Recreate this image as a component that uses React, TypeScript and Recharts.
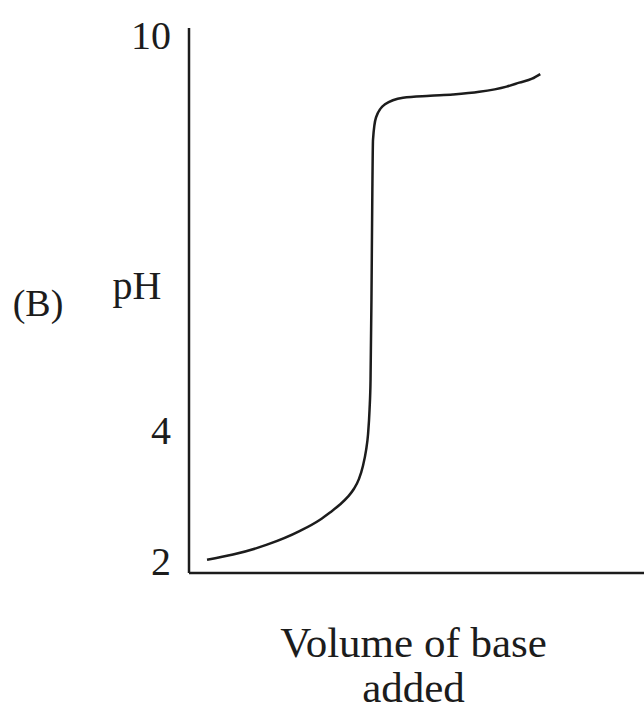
import { LineChart, Line, XAxis, YAxis, Label } from 'recharts';

// titration curve: pH against volume of base added (arbitrary volume units)
const volume = [1.98, 4.84, 8.57, 12.2, 14.4, 15.49, 16.59, 17.47, 18.13, 18.68, 19.12, 19.45, 19.67, 19.84, 19.95, 20.05, 20.14, 20.22, 20.55, 21.54, 23.52, 26.5, 29.0, 31.9, 34.9, 36.3, 37.7, 38.6];
const phValues = [2.02, 2.1, 2.25, 2.46, 2.63, 2.74, 2.86, 2.98, 3.1, 3.25, 3.45, 3.68, 3.92, 4.3, 4.76, 5.97, 7.49, 8.4, 8.74, 8.94, 9.04, 9.07, 9.09, 9.13, 9.21, 9.27, 9.33, 9.4];
const pHTicks = [2, 4, 10];

const xLabelLines = ['Volume of base', 'added'];
const yLabel = 'pH';
const partLabel = '(B)';

const data = volume.map((v, i) => ({ volume: v, ph: phValues[i] }));

const INK = '#1c1c1c';
const FONT = '"Liberation Serif", "DejaVu Serif", serif';

function XLabel(props: any) {
  const { x, y, width } = props.viewBox;
  const cx = x + width / 2 - 3;
  return (
    <text textAnchor="middle" fill={INK} fontFamily={FONT} fontSize={43}>
      <tspan x={cx} y={y + 84}>{xLabelLines[0]}</tspan>
      <tspan x={cx} y={y + 129}>{xLabelLines[1]}</tspan>
    </text>
  );
}

function YLabel(props: any) {
  const { x, y, width, height } = props.viewBox;
  const mid = y + height / 2;
  return (
    <g fill={INK} fontFamily={FONT}>
      <text x={x + width - 52} y={mid - 2} textAnchor="middle" fontSize={40}>{yLabel}</text>
      <text x={x + 38} y={mid + 15} textAnchor="middle" fontSize={38}>{partLabel}</text>
    </g>
  );
}

export default function App() {
  return (
    <div style={{ position: 'fixed', left: 0, top: 0, width: 644, height: 713, background: '#fff' }}>
      <LineChart width={644} height={713} data={data} margin={{ top: 28, right: 0, bottom: 0, left: 0 }}>
        <XAxis
          dataKey="volume"
          type="number"
          domain={[0, 50]}
          tick={false}
          tickLine={false}
          height={140}
          axisLine={{ stroke: INK, strokeWidth: 2.5 }}
        >
          <Label content={XLabel} />
        </XAxis>
        <YAxis
          type="number"
          domain={[1.82, 10.1]}
          ticks={pHTicks}
          interval={0}
          allowDataOverflow
          width={189}
          tickSize={0}
          tickMargin={18}
          tickLine={false}
          axisLine={{ stroke: INK, strokeWidth: 2.5 }}
          tick={{ fill: INK, fontFamily: FONT, fontSize: 40 }}
        >
          <Label content={YLabel} />
        </YAxis>
        <Line
          dataKey="ph"
          type="monotone"
          stroke={INK}
          strokeWidth={2.5}
          dot={false}
          isAnimationActive={false}
        />
      </LineChart>
    </div>
  );
}
